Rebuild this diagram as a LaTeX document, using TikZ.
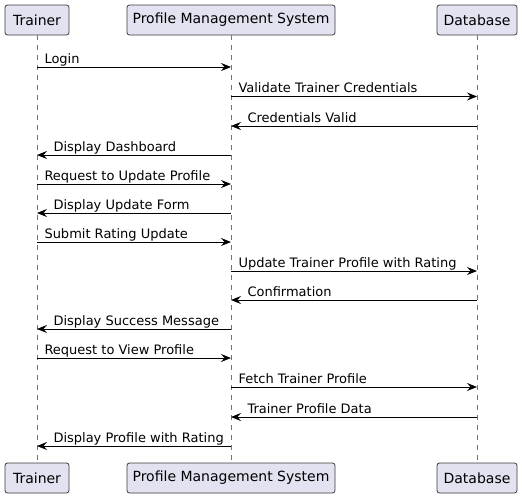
\documentclass[tikz,border=0pt]{standalone}
\usepackage{fontspec}
\setmainfont{DejaVu Sans}
\usetikzlibrary{positioning, arrows.meta}

\definecolor{partfill}{HTML}{E2E2F0}
\definecolor{partline}{HTML}{181818}

\begin{document}
\begin{tikzpicture}[
    x=1pt, y=-1pt,
    font=\fontsize{13}{15}\selectfont,
    participant/.style={draw=partline!85, fill=partfill, line width=0.8pt, rounded corners=2.5pt, minimum height=30pt, inner sep=0pt, font=\fontsize{14}{16}\selectfont},
    lifeline/.style={draw=partline!60, line width=0.7pt, dash pattern=on 5pt off 5pt},
    msg/.style={draw=black, line width=1pt, -{Stealth[length=10pt, width=8pt, inset=3.5pt]}},
    lbl_r/.style={pos=0, anchor=base west, inner sep=0pt, xshift=7pt, yshift=4pt},
    lbl_l/.style={pos=1, anchor=base west, inner sep=0pt, xshift=16pt, yshift=4pt}
]
    \useasboundingbox (0,0) rectangle (522,498);

    % participants, top and bottom
    \node[participant, minimum width=64pt](trainer) at (37, 20){Trainer};
    \node[participant, minimum width=208pt](pms) at (231, 20){Profile Management System};
    \node[participant, minimum width=80pt](db) at (477, 20){Database};

    \node[participant, minimum width=64pt](trainer_bot) at (37, 478){Trainer};
    \node[participant, minimum width=208pt](pms_bot) at (231, 478){Profile Management System};
    \node[participant, minimum width=80pt](db_bot) at (477, 478){Database};

    % lifelines
    \draw[lifeline](trainer) -- (trainer_bot);
    \draw[lifeline](pms) -- (pms_bot);
    \draw[lifeline](db) -- (db_bot);

    % message rows
    \coordinate (m1) at (0, 67);
    \coordinate (m2) at (0, 96.5);
    \coordinate (m3) at (0, 126);
    \coordinate (m4) at (0, 155);
    \coordinate (m5) at (0, 184);
    \coordinate (m6) at (0, 213);
    \coordinate (m7) at (0, 242);
    \coordinate (m8) at (0, 271);
    \coordinate (m9) at (0, 300);
    \coordinate (m10) at (0, 329);
    \coordinate (m11) at (0, 358);
    \coordinate (m12) at (0, 387);
    \coordinate (m13) at (0, 417);
    \coordinate (m14) at (0, 446);

    % messages
    \draw[msg](trainer |- m1) -- (pms |- m1) node[lbl_r]{Login};
    \draw[msg](pms |- m2) -- (db |- m2) node[lbl_r]{Validate Trainer Credentials};
    \draw[msg](db |- m3) -- (pms |- m3) node[lbl_l]{Credentials Valid};
    \draw[msg](pms |- m4) -- (trainer |- m4) node[lbl_l]{Display Dashboard};

    \draw[msg](trainer |- m5) -- (pms |- m5) node[lbl_r]{Request to Update Profile};
    \draw[msg](pms |- m6) -- (trainer |- m6) node[lbl_l]{Display Update Form};

    \draw[msg](trainer |- m7) -- (pms |- m7) node[lbl_r]{Submit Rating Update};
    \draw[msg](pms |- m8) -- (db |- m8) node[lbl_r]{Update Trainer Profile with Rating};
    \draw[msg](db |- m9) -- (pms |- m9) node[lbl_l]{Confirmation};
    \draw[msg](pms |- m10) -- (trainer |- m10) node[lbl_l]{Display Success Message};

    \draw[msg](trainer |- m11) -- (pms |- m11) node[lbl_r]{Request to View Profile};
    \draw[msg](pms |- m12) -- (db |- m12) node[lbl_r]{Fetch Trainer Profile};
    \draw[msg](db |- m13) -- (pms |- m13) node[lbl_l]{Trainer Profile Data};
    \draw[msg](pms |- m14) -- (trainer |- m14) node[lbl_l]{Display Profile with Rating};
\end{tikzpicture}
\end{document}
